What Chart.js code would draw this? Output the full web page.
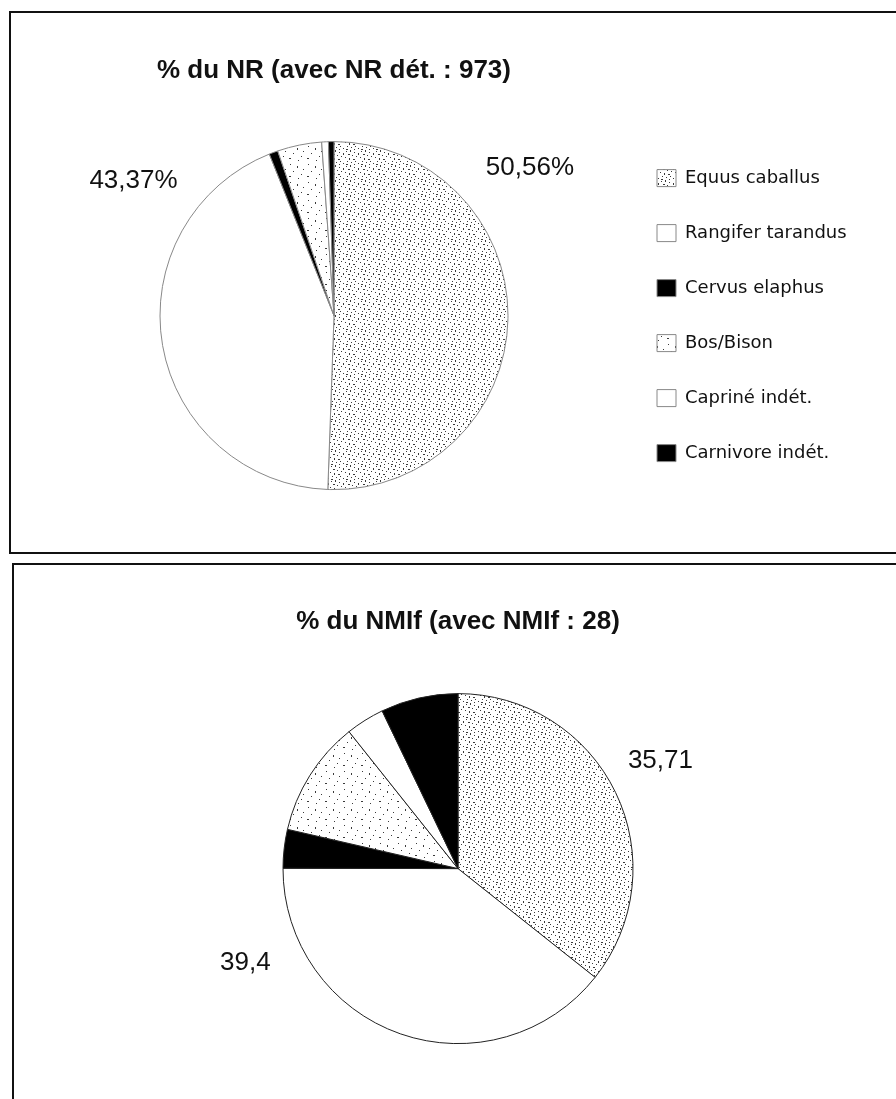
<!DOCTYPE html>
<html>
<head>
<meta charset="utf-8">
<script src="https://cdn.jsdelivr.net/npm/chart.js@4.4.1/dist/chart.umd.min.js"></script>
<style>
  html, body { margin: 0; padding: 0; background: #fff; overflow: hidden; }
  body { width: 896px; height: 1099px; position: relative; }
  .frame { position: absolute; border: 2px solid #111; border-right: none; box-sizing: border-box; }
  #frameTop { left: 9px; top: 11px; width: 1000px; height: 543px; }
  #frameBottom { left: 12px; top: 563px; width: 1000px; height: 700px; }
  canvas { position: absolute; left: 0; }
  #chartNR { top: 0; }
  #chartNMI { top: 553px; }
</style>
</head>
<body>
<div class="frame" id="frameTop"></div>
<div class="frame" id="frameBottom"></div>
<canvas id="chartNR" width="896" height="553"></canvas>
<canvas id="chartNMI" width="896" height="560"></canvas>
<script>
// data
const species = ["Equus caballus", "Rangifer tarandus", "Cervus elaphus", "Bos/Bison", "Capriné indét.", "Carnivore indét."];
const nrPercent = [50.56, 43.37, 0.82, 4.11, 0.62, 0.51];
const nmiPercent = [35.71, 39.4, 3.57, 10.71, 3.57, 7.14];
const nrLabels = ["50,56%", "43,37%"];
const nmiLabels = ["35,71", "39,4"];

document.addEventListener("DOMContentLoaded", function () {
  // stipple textures like the scanned print
  function makePattern(dots, size, color) {
    const c = document.createElement("canvas");
    c.width = c.height = size;
    const g = c.getContext("2d");
    g.fillStyle = "#fff";
    g.fillRect(0, 0, size, size);
    g.fillStyle = color;
    dots.forEach(function (d) { g.fillRect(d[0], d[1], d[2], d[3]); });
    return g.createPattern(c, "repeat");
  }
  const ctxTmp = document.createElement("canvas").getContext("2d");
  const dense = makePattern([
    [1, 1, 1, 1], [5, 0, 1, 2], [9, 2, 1, 1], [3, 4, 2, 1], [7, 5, 1, 1], [11, 6, 1, 1],
    [0, 7, 1, 1], [4, 8, 1, 2], [8, 9, 2, 1], [2, 11, 1, 1], [6, 12, 1, 1], [10, 11, 1, 1],
    [13, 13, 1, 1], [13, 3, 1, 2], [1, 14, 2, 1], [9, 14, 1, 1]
  ], 15, "#3a3a3a");
  const sparse = makePattern([
    [2, 2, 1, 1], [9, 4, 1, 2], [5, 9, 1, 1], [13, 12, 1, 1], [1, 14, 2, 1], [15, 7, 1, 1], [10, 16, 1, 1]
  ], 18, "#3a3a3a");
  const fills = [dense, "#ffffff", "#000000", sparse, "#ffffff", "#000000"];

  const titleFont = { family: "'Liberation Sans', Arial, sans-serif", size: 26, weight: "bold", lineHeight: 1.2 };
  const labelFont = "26px 'Liberation Sans', Arial, sans-serif";

  // percentage labels placed around the pie (angle from top, distance in radii)
  const pieLabels = {
    id: "pieLabels",
    afterDatasetsDraw(chart, args, opts) {
      const arc = chart.getDatasetMeta(0).data[0];
      if (!arc) return;
      const ctx = chart.ctx;
      ctx.save();
      ctx.font = labelFont;
      ctx.fillStyle = "#111";
      ctx.textAlign = "center";
      ctx.textBaseline = "middle";
      opts.items.forEach(function (it) {
        const a = it.angle * Math.PI / 180;
        const r = arc.outerRadius * it.dist;
        ctx.fillText(it.text, arc.x + r * Math.sin(a), arc.y - r * Math.cos(a));
      });
      ctx.restore();
    }
  };

  // Top chart: % du NR
  const legendFontSize = 18;
  const legendFamily = "'DejaVu Sans', sans-serif";
  const legendPad = 37, legendBox = 19;
  ctxTmp.font = legendFontSize + "px " + legendFamily;
  const maxText = Math.max.apply(null, species.map(function (s) { return ctxTmp.measureText(s).width; }));
  const legendWidth = legendPad + legendBox + legendFontSize / 2 + maxText + 10;
  const legendLeft = 657 - legendPad;

  new Chart(document.getElementById("chartNR").getContext("2d"), {
    type: "pie",
    data: {
      labels: species,
      datasets: [{
        data: nrPercent,
        backgroundColor: fills,
        borderColor: "#888",
        borderWidth: 1,
        radius: 174
      }]
    },
    options: {
      responsive: false,
      animation: false,
      devicePixelRatio: 1,
      layout: { padding: { left: 2 * 334 - legendLeft, right: 896 - legendLeft - legendWidth, top: 55, bottom: 8 } },
      plugins: {
        title: {
          display: true,
          text: "% du NR (avec NR dét. : 973)",
          color: "#111",
          font: titleFont,
          fullSize: false,
          padding: 0
        },
        legend: {
          position: "right",
          fullSize: false,
          labels: {
            color: "#111",
            font: { family: legendFamily, size: legendFontSize },
            boxWidth: legendBox,
            boxHeight: 17,
            padding: legendPad
          }
        },
        tooltip: { enabled: false },
        pieLabels: {
          items: [
            { text: nrLabels[0], angle: 53, dist: 1.41 },
            { text: nrLabels[1], angle: 304, dist: 1.39 }
          ]
        }
      }
    },
    plugins: [pieLabels]
  });

  // Bottom chart: % du NMIf
  new Chart(document.getElementById("chartNMI").getContext("2d"), {
    type: "pie",
    data: {
      labels: species,
      datasets: [{
        data: nmiPercent,
        backgroundColor: fills,
        borderColor: "#222",
        borderWidth: 1,
        radius: 175
      }]
    },
    options: {
      responsive: false,
      animation: false,
      devicePixelRatio: 1,
      layout: { padding: { left: 20, right: 0, top: 53, bottom: 13 } },
      plugins: {
        title: {
          display: true,
          text: "% du NMIf (avec NMIf : 28)",
          color: "#111",
          font: titleFont,
          padding: 0
        },
        legend: { display: false },
        tooltip: { enabled: false },
        pieLabels: {
          items: [
            { text: nmiLabels[0], angle: 62, dist: 1.31 },
            { text: nmiLabels[1], angle: 246, dist: 1.33 }
          ]
        }
      }
    },
    plugins: [pieLabels]
  });
});
</script>
</body>
</html>
